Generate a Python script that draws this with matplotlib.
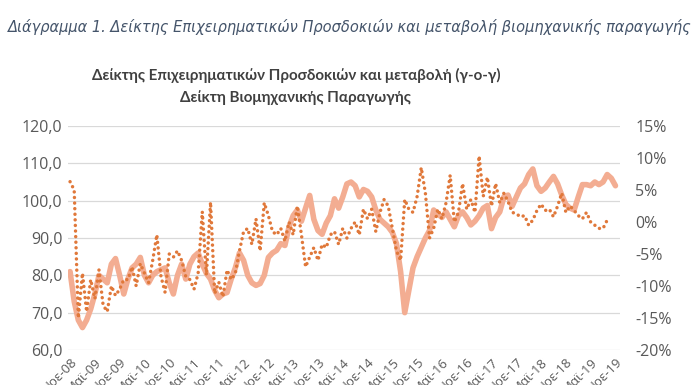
import matplotlib
matplotlib.use("Agg")
import matplotlib.pyplot as plt
from matplotlib.ticker import FuncFormatter, FixedLocator
import numpy as np

# Business Expectations Index (left axis), monthly from Nov-2008
bei = [81, 73, 68, 66, 68, 71, 75, 80, 79, 78, 83, 84.5, 80, 75, 79, 82, 83, 84.8,
       80, 78, 80, 81, 81.5, 82, 78, 75, 80, 83, 79, 83, 85, 86, 83, 80.5, 79, 76,
       74, 75, 75.4, 79, 82, 86, 84, 80, 78, 77.3, 77.8, 80, 84.8, 86, 86.7, 88.5,
       88, 93, 96, 97.5, 94.5, 98, 101.4, 95, 92, 91, 94, 96, 100.5, 98, 101, 104.5,
       105, 104, 101, 103, 102.5, 101, 97.5, 95, 94, 93, 91.5, 88.5, 81, 70, 76, 82,
       85, 87.5, 90, 92, 97.5, 96.5, 95.5, 97, 95, 93, 96, 97, 95.5, 93.5, 94.5, 96,
       98, 98.7, 92.5, 95.5, 97, 101, 101.5, 98.5, 101, 103.4, 104.5, 107, 108.5, 104,
       102.5, 103.4, 105, 106.5, 104.5, 101.5, 99, 98, 97.5, 101, 104.3, 104.3, 104,
       105, 104.3, 105, 107, 106, 104]

# Industrial production y-o-y change (%) (right axis), monthly from Nov-2008
ip_yoy = [6.3, 5.0, -15.0, -8.0, -14.0, -9.0, -12.0, -7.5, -13.0, -14.0, -10.0, -11.5,
          -10.5, -9.0, -9, -7, -10, -6.5, -8, -9.5, -6, -2, -8.5, -11, -5, -5.5,
          -4.5, -6, -8.5, -9, -10.5, -8, 1.6, -8.3, 3.1, -11.2, -9.4, -11.7,
          -7.5, -9, -8, -4.5, -1.5, -1, -3.5, 0.5, -4.5, 3, 1, -1.5,
          -2, -1, -3, 0, -2, 2.5, -2, -7, -5.5, -4, -6, -3.5,
          -4, -2, -1.5, -3.5, -1, -2.5, -1, 0, -2, 2, 0.5, 2,
          -1.5, 1.5, 3.5, 2.5, -1, -4.5, -6, 3.5, 2, 1.5, 4, 8.5,
          4.5, -2.5, -1, 2, 0.5, 3, 7.3, 0, 1.5, 6, 2, 3.5,
          1.5, 10.3, 4, 7, 2.5, 6, 3, 4.5, 3.2, 1.5, 1.3, 0.8,
          1, -0.5, 0.3, 1.8, 2.8, 1.8, 2, 0.8, 2.5, 4.5, 1.5, 2.5,
          1.8, 1, 0.5, 1.5, 0, -0.5, -1, -1, 0.3]

tick_labels = ["Νοε-08", "Μαϊ-09", "Νοε-09", "Μαϊ-10", "Νοε-10", "Μαϊ-11", "Νοε-11",
               "Μαϊ-12", "Νοε-12", "Μαϊ-13", "Νοε-13", "Μαϊ-14", "Νοε-14", "Μαϊ-15",
               "Νοε-15", "Μαϊ-16", "Νοε-16", "Μαϊ-17", "Νοε-17", "Μαϊ-18", "Νοε-18",
               "Μαϊ-19", "Νοε-19"]
left_ticks = [60, 70, 80, 90, 100, 110, 120]
right_ticks = [-20, -15, -10, -5, 0, 5, 10, 15]

caption = "Διάγραμμα 1. Δείκτης Επιχειρηματικών Προσδοκιών και μεταβολή βιομηχανικής παραγωγής"
title = "Δείκτης Επιχειρηματικών Προσδοκιών και μεταβολή (γ-ο-γ)\nΔείκτη Βιομηχανικής Παραγωγής"

plt.rcParams['font.family'] = ['Open Sans', 'DejaVu Sans']

fig = plt.figure(figsize=(6.96, 3.85), dpi=100)
ax = fig.add_axes([68/696, 1-350/385, 552/696, 224/385])
ax2 = ax.twinx()

x_bei = np.arange(len(bei))
x_ip = np.arange(len(ip_yoy))

ax.plot(x_bei, bei, color='#F3AD92', lw=4.0, solid_capstyle='round',
        solid_joinstyle='round', zorder=2)
ax2.plot(x_ip, ip_yoy, color='#E0783A', lw=2.5, linestyle=(0, (0.01, 1.6)),
         dash_capstyle='round', zorder=3)

ax.set_ylim(60, 120)
ax2.set_ylim(-20, 15)
ax.set_xlim(-0.5, 133.1)

ax.yaxis.set_major_locator(FixedLocator(left_ticks))
ax.yaxis.set_major_formatter(FuncFormatter(lambda v, p: f"{v:.1f}".replace('.', ',')))
ax2.yaxis.set_major_locator(FixedLocator(right_ticks))
ax2.yaxis.set_major_formatter(FuncFormatter(lambda v, p: f"{v:.0f}%"))

ax.grid(axis='y', color='#D9D9D9', lw=0.9)
ax.set_axisbelow(True)

ax.set_xticks(np.arange(0, 6 * len(tick_labels), 6))
ax.set_xticklabels(tick_labels, rotation=45, ha='right', rotation_mode='anchor')

for a in (ax, ax2):
    for s in a.spines.values():
        s.set_visible(False)
    a.tick_params(length=0, colors='#595959', labelsize=11.5)
ax.tick_params(axis='y', pad=4)
ax2.tick_params(axis='y', pad=11)
ax.tick_params(axis='x', pad=4, labelsize=9.5)

fig.text(0.012, 0.93, caption, fontsize=10.5, style='italic', color='#44546A',
         ha='left', va='center', family=['DejaVu Sans'])
fig.text(0.425, 0.775, title, fontsize=10.9, fontweight='bold', color='#404040',
         ha='center', va='center', linespacing=1.6, family=['Lato', 'DejaVu Sans'])

fig.savefig('out.png', dpi=100)
